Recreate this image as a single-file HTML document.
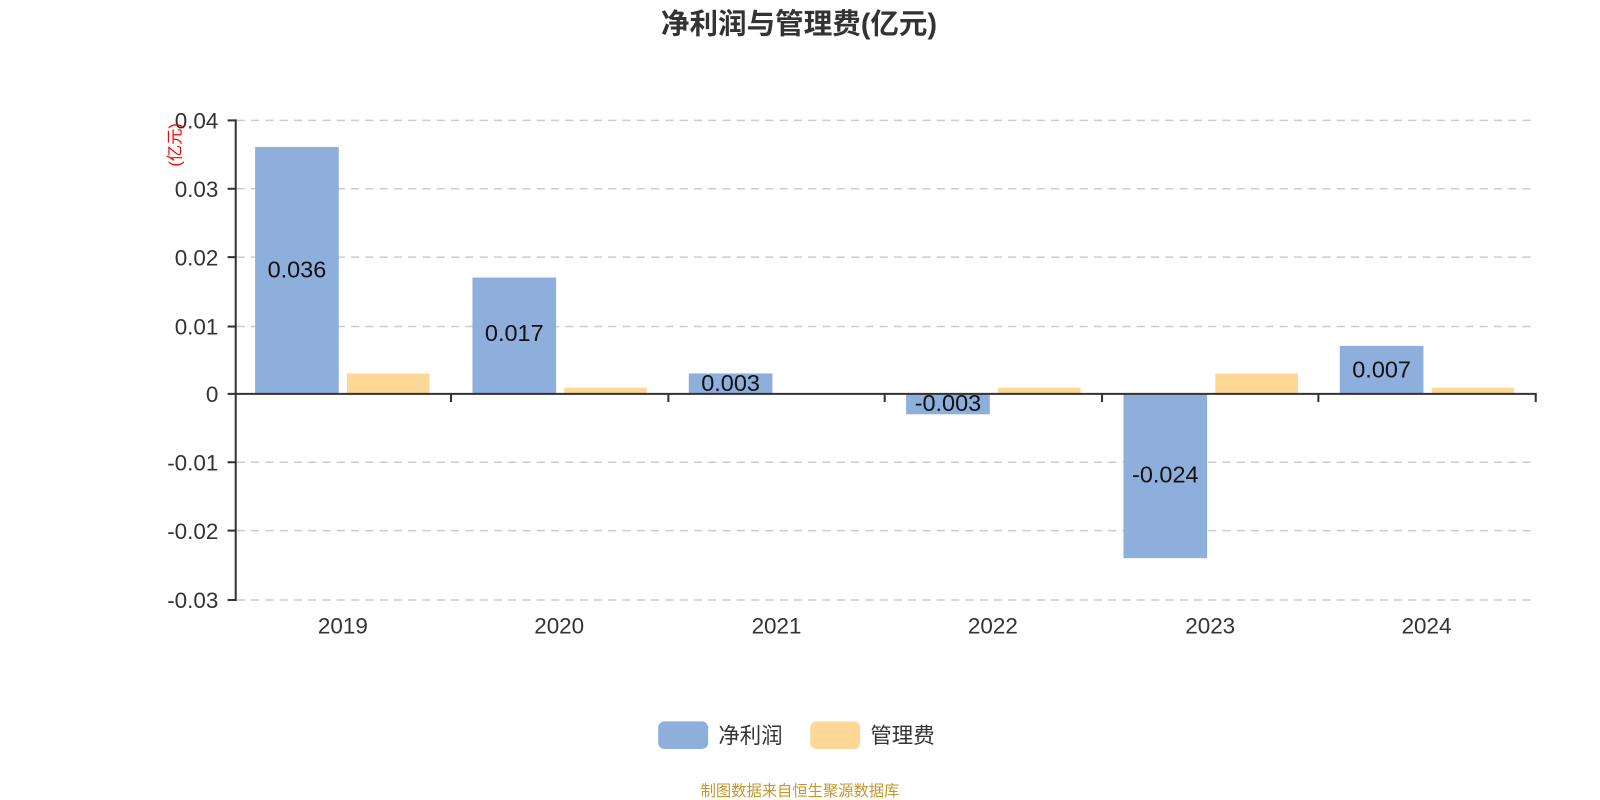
<!DOCTYPE html>
<html><head><meta charset="utf-8"><style>
body{margin:0;background:#fff}
svg{display:block}
svg text{font-family:"Liberation Sans","Noto Sans CJK SC",sans-serif}
</style></head><body>
<svg width="1600" height="800" viewBox="0 0 1568 784" xmlns="http://www.w3.org/2000/svg">
<text x="783" y="33" text-anchor="middle" font-size="28" font-weight="bold" fill="#333">净利润与管理费(亿元)</text>
<g stroke="#ccc" stroke-width="1.5" stroke-dasharray="8,6">
<line x1="232" y1="118" x2="1505" y2="118"/>
<line x1="232" y1="185" x2="1505" y2="185"/>
<line x1="232" y1="252" x2="1505" y2="252"/>
<line x1="232" y1="320" x2="1505" y2="320"/>
<line x1="232" y1="453" x2="1505" y2="453"/>
<line x1="232" y1="520" x2="1505" y2="520"/>
<line x1="232" y1="588" x2="1505" y2="588"/>
</g>
<g fill="#8eaedb">
<rect x="250" y="144" width="82" height="242"/>
<rect x="463" y="272" width="82" height="114"/>
<rect x="675" y="366" width="82" height="20"/>
<rect x="888" y="386" width="82" height="20"/>
<rect x="1101" y="386" width="82" height="161"/>
<rect x="1313" y="339" width="82" height="47"/>
</g>
<g fill="#ffd797">
<rect x="340" y="366" width="81" height="20"/>
<rect x="553" y="380" width="81" height="6"/>
<rect x="978" y="380" width="81" height="6"/>
<rect x="1191" y="366" width="81" height="20"/>
<rect x="1403" y="380" width="81" height="6"/>
</g>
<g stroke="#333" stroke-width="2">
<line x1="231" y1="117" x2="231" y2="589"/>
<line x1="230" y1="386" x2="1506" y2="386"/>
<line x1="223" y1="118" x2="231" y2="118"/><line x1="223" y1="185" x2="231" y2="185"/>
<line x1="223" y1="252" x2="231" y2="252"/><line x1="223" y1="320" x2="231" y2="320"/>
<line x1="223" y1="386" x2="231" y2="386"/><line x1="223" y1="453" x2="231" y2="453"/>
<line x1="223" y1="520" x2="231" y2="520"/><line x1="223" y1="588" x2="231" y2="588"/>
<line x1="442" y1="386" x2="442" y2="394"/><line x1="655" y1="386" x2="655" y2="394"/>
<line x1="867" y1="386" x2="867" y2="394"/><line x1="1080" y1="386" x2="1080" y2="394"/>
<line x1="1292" y1="386" x2="1292" y2="394"/><line x1="1505" y1="386" x2="1505" y2="394"/>
</g>
<g font-size="22" fill="#333" text-anchor="end">
<text x="214" y="126">0.04</text><text x="214" y="193">0.03</text>
<text x="214" y="260">0.02</text><text x="214" y="328">0.01</text>
<text x="214" y="394">0</text><text x="214" y="461">-0.01</text>
<text x="214" y="528">-0.02</text><text x="214" y="596">-0.03</text>
</g>
<text transform="translate(177,142) rotate(-90)" text-anchor="middle" font-size="16" fill="#f00">(亿元)</text>
<g font-size="22" fill="#333" text-anchor="middle">
<text x="336" y="621">2019</text><text x="548" y="621">2020</text>
<text x="761" y="621">2021</text><text x="973" y="621">2022</text>
<text x="1186" y="621">2023</text><text x="1398" y="621">2024</text>
</g>
<g font-size="23" fill="#111" text-anchor="middle">
<text x="291" y="272">0.036</text><text x="504" y="334">0.017</text>
<text x="716" y="383">0.003</text><text x="929" y="403">-0.003</text>
<text x="1142" y="473">-0.024</text><text x="1354" y="370">0.007</text>
</g>
<rect x="645" y="707" width="49" height="27" rx="6" fill="#8eaedb"/>
<text x="704" y="728" font-size="21" fill="#333">净利润</text>
<rect x="794" y="707" width="49" height="27" rx="6" fill="#ffd797"/>
<text x="853" y="728" font-size="21" fill="#333">管理费</text>
<text x="784" y="780" text-anchor="middle" font-size="15" fill="#c8962a">制图数据来自恒生聚源数据库</text>
</svg>
</body></html>
